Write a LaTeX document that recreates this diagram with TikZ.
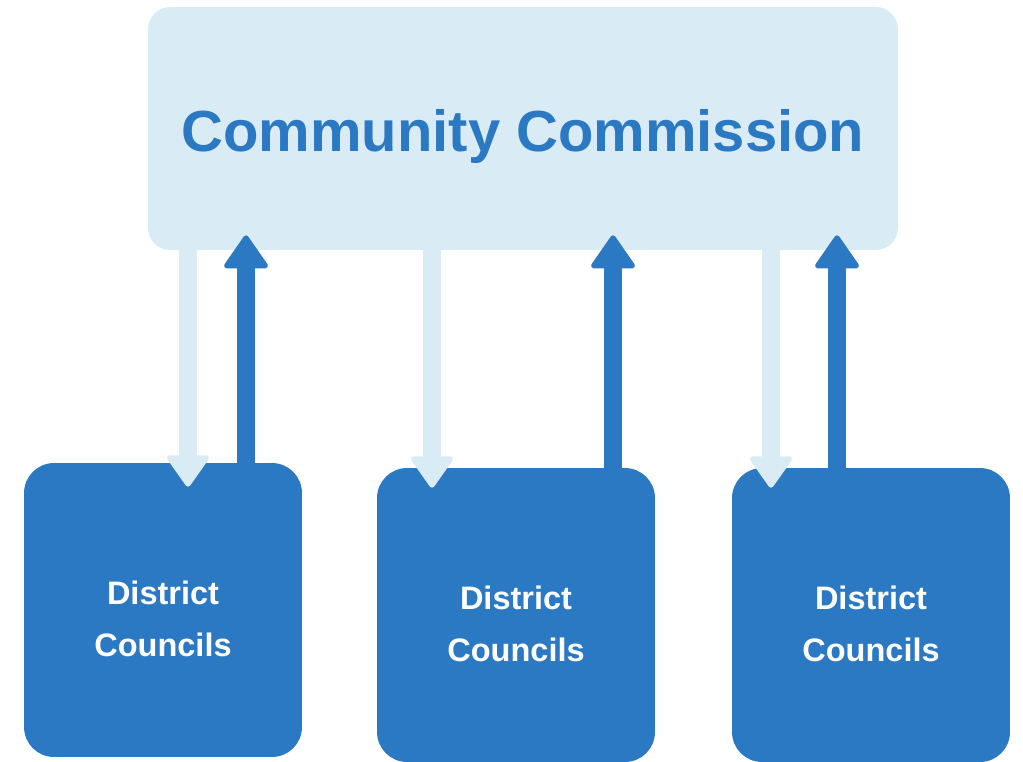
\documentclass[tikz,border=0pt]{standalone}
\usepackage{fontspec}
\setmainfont{Liberation Sans}
\usepackage{tikz}
\usetikzlibrary{arrows.meta}
\usetikzlibrary{positioning}
\definecolor{paleblue}{HTML}{D9ECF6}
\definecolor{darkblue}{HTML}{2B78C3}

\begin{document}
\begin{tikzpicture}[line cap=round,line join=round,x=0.02cm,y=-0.02cm,
  commission/.style={fill=paleblue,rounded corners=0.44cm,minimum width=15cm,minimum height=4.86cm,text=darkblue,font=\fontsize{33}{40}\selectfont\bfseries},
  council/.style={fill=darkblue,rounded corners=0.6cm,minimum width=5.56cm,minimum height=5.88cm,text=white,align=center,font=\fontsize{18.5}{29.5}\selectfont\bfseries},
  downarr/.style={draw=paleblue,line width=10.2pt,line cap=butt,-{Triangle[width=26pt,length=19pt,line width=3pt,round]},paleblue},
  uparr/.style={draw=darkblue,line width=10.5pt,line cap=butt,-{Triangle[width=27pt,length=20pt,line width=3pt,round]},darkblue}]
\useasboundingbox (0,0) rectangle (1023,761);
\node[commission] (cc) at (523,128.5) {\rule{0pt}{33pt}Community Commission};
\node[council] (dc1) at (163,610) {\rule{0pt}{23.7pt}District\\Councils};
\node[council] (dc2) at (516,615) {\rule{0pt}{23.7pt}District\\Councils};
\node[council] (dc3) at (871,615) {\rule{0pt}{23.7pt}District\\Councils};
% arrow positions
\coordinate (d1) at (188,0);
\coordinate (u1) at (246,0);
\coordinate (d2) at (432,0);
\coordinate (u2) at (613,0);
\coordinate (d3) at (771,0);
\coordinate (u3) at (837,0);
\draw[downarr] (cc.south -| d1) -- ([yshift=-0.48cm]dc1.north -| d1);
\draw[downarr] (cc.south -| d2) -- ([yshift=-0.4cm]dc2.north -| d2);
\draw[downarr] (cc.south -| d3) -- ([yshift=-0.4cm]dc3.north -| d3);
\draw[uparr] (dc1.north -| u1) -- ([yshift=0.3cm]cc.south -| u1);
\draw[uparr] (dc2.north -| u2) -- ([yshift=0.3cm]cc.south -| u2);
\draw[uparr] (dc3.north -| u3) -- ([yshift=0.3cm]cc.south -| u3);
\end{tikzpicture}
\end{document}
